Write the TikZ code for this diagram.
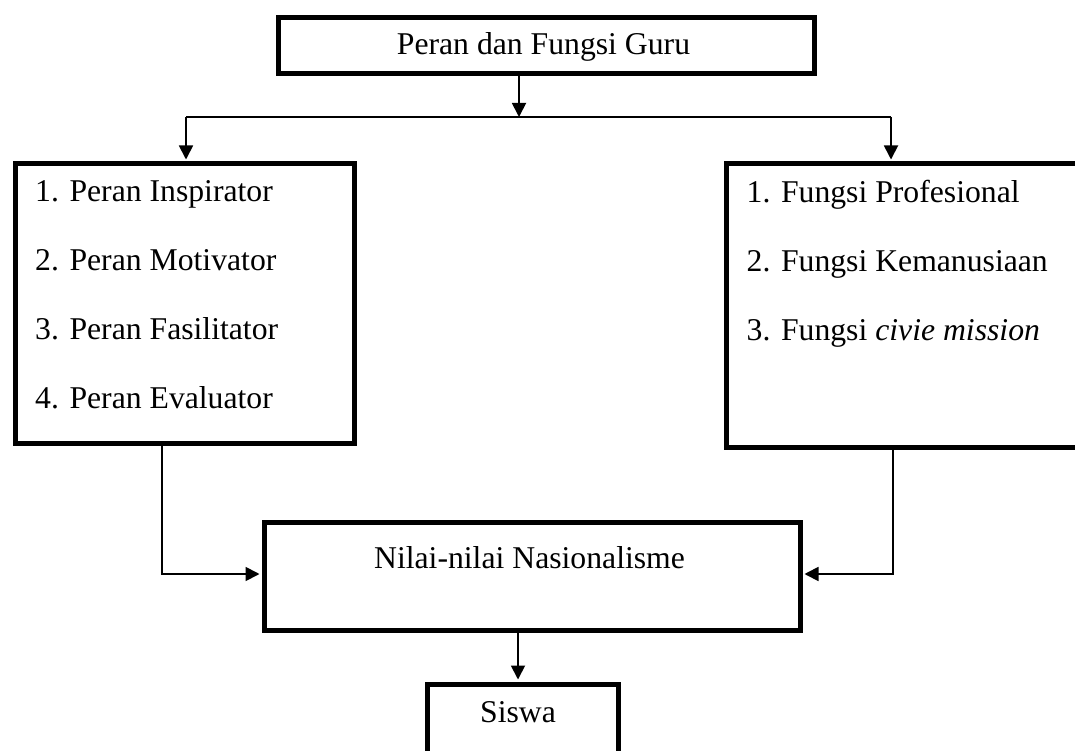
\documentclass[tikz,border=0pt]{standalone}
\usepackage{fontspec}
\setmainfont{Liberation Serif}
\usetikzlibrary{arrows.meta}
\begin{document}
\begin{tikzpicture}[x=1pt,y=-1pt,
  box/.style={draw, line width=5pt, inner sep=0pt, anchor=north west},
  txt/.style={font=\fontsize{31.7}{38}\selectfont, inner sep=0pt},
  conn/.style={line width=1.8pt},
  tipped/.style={conn, -{Triangle[length=14pt,width=14pt]}},
  arr/.style={tipped, shorten >=2pt}]
\useasboundingbox (0,0) rectangle (1075,751);
\clip (0,0) rectangle (1075,751);
% boxes
\node[box, minimum width=536pt, minimum height=56pt] (top) at (275.5,15.5) {};
\node[box, minimum width=339pt, minimum height=279pt] (left) at (12.5,161.5) {};
\node[box, minimum width=380pt, minimum height=283pt] (right) at (723.5,161.5) {};
\node[box, minimum width=536pt, minimum height=108pt] (mid) at (261.5,519.5) {};
\node[box, minimum width=191pt, minimum height=120pt] (siswa) at (424.5,681.5) {};
% texts
\node[txt, anchor=base] (ttop) at (543.5,55) {Peran dan Fungsi Guru};
\node[txt, anchor=base west] (l1) at (35,201.5) {1. Peran Inspirator};
\node[txt, anchor=base west] (l2) at (35,270.5) {2. Peran Motivator};
\node[txt, anchor=base west] (l3) at (35,339.5) {3. Peran Fasilitator};
\node[txt, anchor=base west] (l4) at (35,408.5) {4. Peran Evaluator};
\node[txt, anchor=base west] (r1) at (746.5,202.5) {1. Fungsi Profesional};
\node[txt, anchor=base west] (r2) at (746.5,271.5) {2. Fungsi Kemanusiaan};
\node[txt, anchor=base west] (r3) at (746.5,340.5) {3. Fungsi \textit{civie mission}};
\node[txt, anchor=base] (tmid) at (529.5,568) {Nilai-nilai Nasionalisme};
\node[txt, anchor=base] (tsis) at (518,722) {Siswa};
% connectors
\coordinate (hM) at (519,117);
\coordinate (hL) at (186,117);
\coordinate (hR) at (891,117);
\coordinate (cL) at (162,574);
\coordinate (cR) at (893,574);
\coordinate (cS) at (518,650);
\draw[tipped] (hM |- top.south) -- (hM);
\draw[conn] (hL) -- (hR);
\draw[arr] (hL) -- (hL |- left.north);
\draw[arr] (hR) -- (hR |- right.north);
\draw[arr] (cL |- left.south) -- (cL) -- (cL -| mid.west);
\draw[arr] (cR |- right.south) -- (cR) -- (cR -| mid.east);
\draw[arr] (cS |- mid.south) -- (cS |- siswa.north);
\end{tikzpicture}
\end{document}
